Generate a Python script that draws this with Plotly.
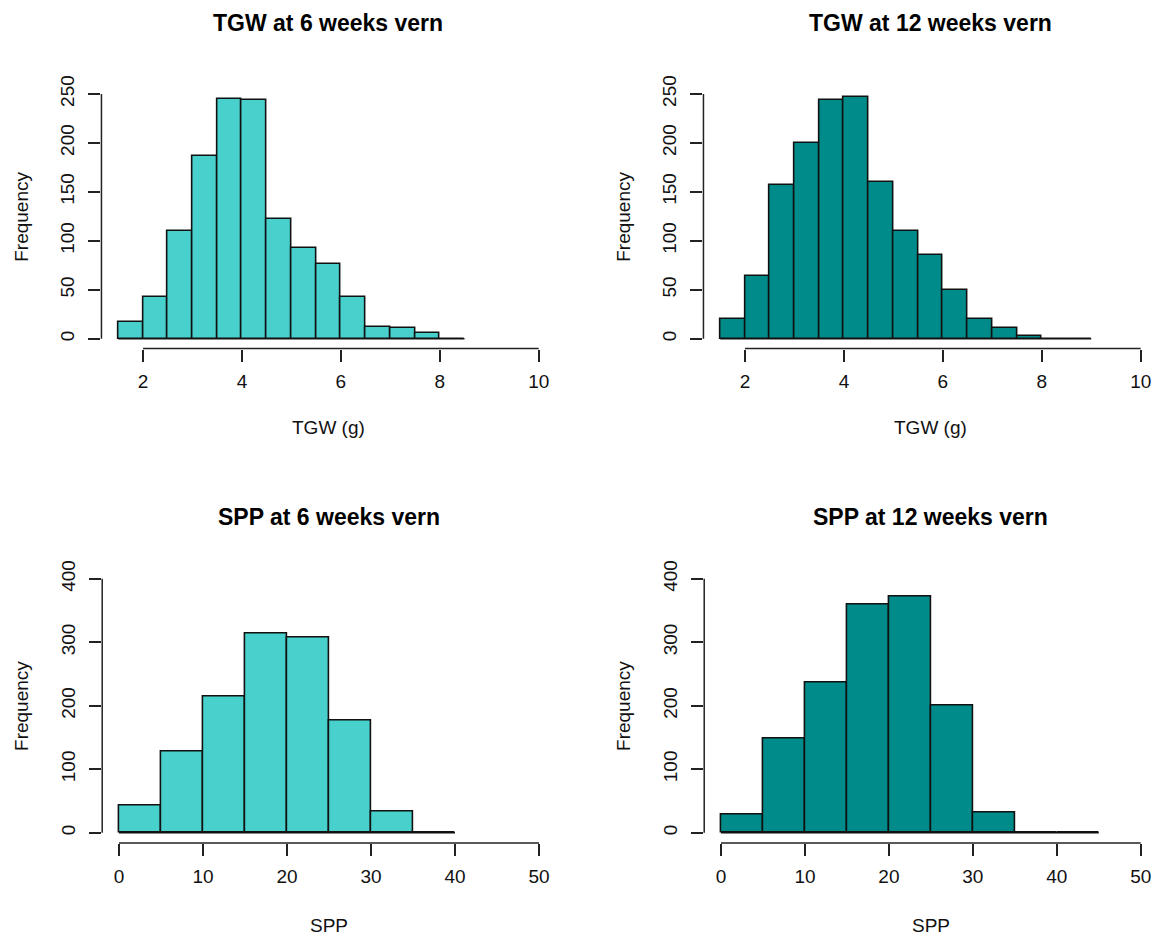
import plotly.graph_objects as go

W, H = 1153, 938

# ---------------- data ----------------
titles = ["TGW at 6 weeks vern", "TGW at 12 weeks vern",
          "SPP at 6 weeks vern", "SPP at 12 weeks vern"]
x_labels = ["TGW (g)", "TGW (g)", "SPP", "SPP"]
y_label = "Frequency"

tgw6_breaks = [1.5, 2.0, 2.5, 3.0, 3.5, 4.0, 4.5, 5.0, 5.5, 6.0, 6.5, 7.0, 7.5, 8.0, 8.5]
tgw6_counts = [17, 43, 110, 187, 245, 244, 122, 93, 76, 43, 12, 11, 6, 0]

tgw12_breaks = [1.5, 2.0, 2.5, 3.0, 3.5, 4.0, 4.5, 5.0, 5.5, 6.0, 6.5, 7.0, 7.5, 8.0, 8.5, 9.0]
tgw12_counts = [20, 64, 157, 200, 244, 247, 160, 110, 85, 50, 20, 11, 3, 0, 0]

spp6_breaks = [0, 5, 10, 15, 20, 25, 30, 35, 40]
spp6_counts = [43, 127, 214, 313, 308, 176, 34, 0]

spp12_breaks = [0, 5, 10, 15, 20, 25, 30, 35, 40, 45]
spp12_counts = [29, 148, 236, 360, 372, 200, 31, 0, 0]

tgw_xticks = [2, 4, 6, 8, 10]
tgw_yticks = [0, 50, 100, 150, 200, 250]
spp_xticks = [0, 10, 20, 30, 40, 50]
spp_yticks = [0, 100, 200, 300, 400]

col_6 = "#48D1CC"   # mediumturquoise
col_12 = "#008B8B"  # darkcyan

# ---------------- layout geometry (pixels) ----------------
panels = [
    dict(breaks=tgw6_breaks, counts=tgw6_counts, color=col_6, xt=tgw_xticks, yt=tgw_yticks,
         xref=(2, 143.0, 10, 538.7), yref=(0, 333.0, 250, 85.7),
         xlim=(1.16, 10.34), ylim=(-10, 260)),
    dict(breaks=tgw12_breaks, counts=tgw12_counts, color=col_12, xt=tgw_xticks, yt=tgw_yticks,
         xref=(2, 745.0, 10, 1140.7), yref=(0, 333.0, 250, 85.7),
         xlim=(1.16, 10.34), ylim=(-10, 260)),
    dict(breaks=spp6_breaks, counts=spp6_counts, color=col_6, xt=spp_xticks, yt=spp_yticks,
         xref=(0, 119.0, 50, 539.0), yref=(0, 831.7, 400, 575.3),
         xlim=(-2, 52), ylim=(-16, 416)),
    dict(breaks=spp12_breaks, counts=spp12_counts, color=col_12, xt=spp_xticks, yt=spp_yticks,
         xref=(0, 721.0, 50, 1140.7), yref=(0, 831.7, 400, 575.3),
         xlim=(-2, 52), ylim=(-16, 416)),
]
title_y_px = [14, 513, 0, 0]
title_y_px = [14, 14, 513, 513]
xlab_offset = [80, 80, 83, 83]

FONT = "Liberation Sans, Arial, sans-serif"
AX_COL = "#222222"

fig = go.Figure()
shapes = []
annotations = []
layout_axes = {}

for i, p in enumerate(panels):
    n = i + 1
    xa = "x" if n == 1 else f"x{n}"
    ya = "y" if n == 1 else f"y{n}"

    v0, px0, v1, px1 = p["xref"]
    sx = (px1 - px0) / (v1 - v0)
    x_left_px = px0 + (p["xlim"][0] - v0) * sx
    x_right_px_full = px0 + (p["xlim"][1] - v0) * sx
    x_right_px = min(x_right_px_full, W)
    x_right_val = v0 + (x_right_px - px0) / sx

    w0, py0, w1, py1 = p["yref"]
    sy = (py1 - py0) / (w1 - w0)
    y_bot_px = py0 + (p["ylim"][0] - w0) * sy
    y_top_px = py0 + (p["ylim"][1] - w0) * sy

    xdom = [x_left_px / W, x_right_px / W]
    ydom = [1 - y_bot_px / H, 1 - y_top_px / H]

    br = p["breaks"]
    centers = [(br[k] + br[k + 1]) / 2 for k in range(len(br) - 1)]
    widths = [br[k + 1] - br[k] for k in range(len(br) - 1)]

    fig.add_trace(go.Bar(
        x=centers, y=p["counts"], width=widths,
        marker=dict(color=p["color"], line=dict(color="#111111", width=1.6)),
        xaxis=xa, yaxis=ya, showlegend=False, hoverinfo="x+y",
    ))
    # baseline of the histogram rectangles (covers empty bins too)
    fig.add_trace(go.Scatter(
        x=[br[0], br[-1]], y=[0, 0], mode="lines",
        line=dict(color="#111111", width=1.6),
        xaxis=xa, yaxis=ya, showlegend=False, hoverinfo="skip",
    ))

    axkey_x = "xaxis" if n == 1 else f"xaxis{n}"
    axkey_y = "yaxis" if n == 1 else f"yaxis{n}"
    layout_axes[axkey_x] = dict(
        domain=xdom, range=[p["xlim"][0], x_right_val], anchor=ya,
        tickmode="array", tickvals=p["xt"], ticktext=[str(t) for t in p["xt"]],
        ticks="outside", ticklen=12, tickwidth=1.5, tickcolor=AX_COL,
        showline=False, showgrid=False, zeroline=False,
        tickfont=dict(family=FONT, size=19, color="#111111"),
        ticklabelstandoff=4, fixedrange=True,
    )
    layout_axes[axkey_y] = dict(
        domain=ydom, range=list(p["ylim"]), anchor=xa,
        tickmode="array", tickvals=p["yt"], ticktext=[str(t) for t in p["yt"]],
        ticks="outside", ticklen=12, tickwidth=1.5, tickcolor=AX_COL,
        tickangle=-90,
        showline=False, showgrid=False, zeroline=False,
        tickfont=dict(family=FONT, size=19, color="#111111"),
        ticklabelstandoff=7, fixedrange=True,
    )

    # R-style axis lines spanning first to last tick
    shapes.append(dict(type="line", xref=xa, yref=f"{ya} domain",
                       x0=p["xt"][0], x1=p["xt"][-1], y0=0, y1=0,
                       line=dict(color=AX_COL, width=1.5)))
    shapes.append(dict(type="line", xref=f"{xa} domain", yref=ya,
                       x0=0, x1=0, y0=p["yt"][0], y1=p["yt"][-1],
                       line=dict(color=AX_COL, width=1.5)))

    center_x_px = (x_left_px + x_right_px_full) / 2
    annotations.append(dict(
        text=f"<b>{titles[i]}</b>", xref="paper", yref="paper",
        x=center_x_px / W, y=1 - title_y_px[i] / H,
        xanchor="center", yanchor="middle", showarrow=False,
        font=dict(family=FONT, size=23, color="#000000"),
    ))
    annotations.append(dict(
        text=x_labels[i], xref="paper", yref="paper",
        x=center_x_px / W, y=1 - (y_bot_px + xlab_offset[i]) / H,
        xanchor="center", yanchor="middle", showarrow=False,
        font=dict(family=FONT, size=19, color="#111111"),
    ))
    annotations.append(dict(
        text=y_label, xref="paper", yref="paper",
        x=(x_left_px - 80) / W, y=1 - ((y_bot_px + y_top_px) / 2) / H,
        xanchor="center", yanchor="middle", textangle=-90, showarrow=False,
        font=dict(family=FONT, size=19, color="#111111"),
    ))

fig.update_layout(
    width=W, height=H,
    margin=dict(l=0, r=0, t=0, b=0),
    paper_bgcolor="white", plot_bgcolor="white",
    bargap=0, showlegend=False,
    shapes=shapes, annotations=annotations,
    **layout_axes,
)

fig.write_html(
    "out.html",
    config={"displayModeBar": False},
    post_script="document.body.style.margin='0px';document.body.style.overflow='hidden';",
)
